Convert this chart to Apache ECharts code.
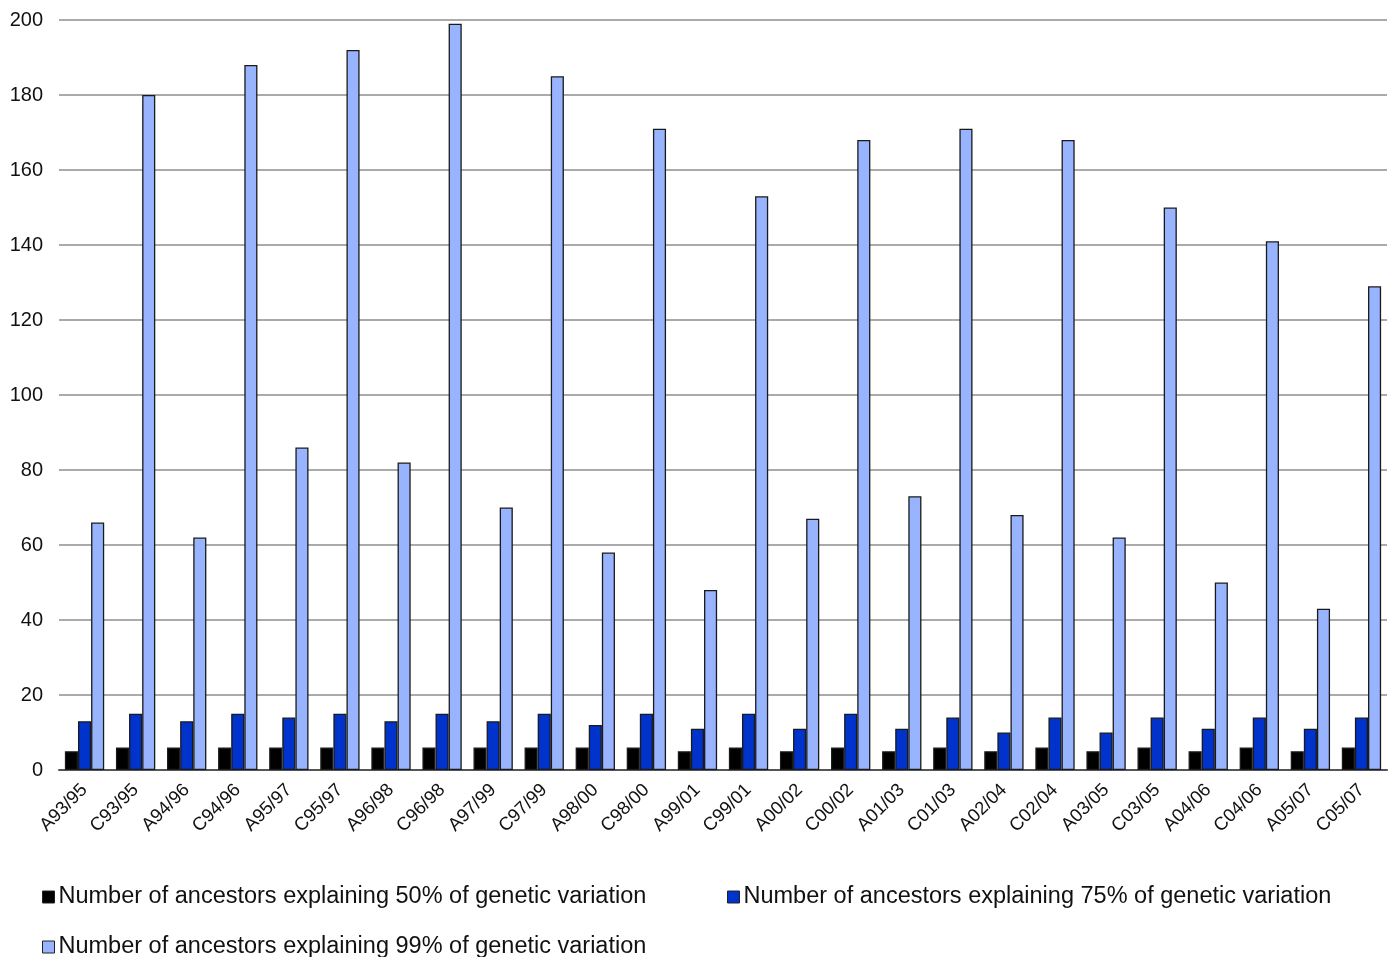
<!DOCTYPE html>
<html>
<head>
<meta charset="utf-8">
<script src="https://cdn.jsdelivr.net/npm/echarts@6/dist/echarts.min.js"></script>
<style>
  html, body { margin: 0; padding: 0; background: #fff; }
  #chart { width: 1396px; height: 957px; }
</style>
</head>
<body>
<div id="chart"></div>
<script>
// Breeding-cycle categories by year span
const categories = [
  'A93/95', 'C93/95', 'A94/96', 'C94/96', 'A95/97', 'C95/97', 'A96/98', 'C96/98',
  'A97/99', 'C97/99', 'A98/00', 'C98/00', 'A99/01', 'C99/01', 'A00/02', 'C00/02',
  'A01/03', 'C01/03', 'A02/04', 'C02/04', 'A03/05', 'C03/05', 'A04/06', 'C04/06',
  'A05/07', 'C05/07'
];

// Number of ancestors explaining 50% of genetic variation
const ancestors50 = [5, 6, 6, 6, 6, 6, 6, 6, 6, 6, 6, 6, 5, 6, 5, 6, 5, 6, 5, 6, 5, 6, 5, 6, 5, 6];
// Number of ancestors explaining 75% of genetic variation
const ancestors75 = [13, 15, 13, 15, 14, 15, 13, 15, 13, 15, 12, 15, 11, 15, 11, 15, 11, 14, 10, 14, 10, 14, 11, 14, 11, 14];
// Number of ancestors explaining 99% of genetic variation
const ancestors99 = [66, 180, 62, 188, 86, 192, 82, 199, 70, 185, 58, 171, 48, 153, 67, 168, 73, 171, 68, 168, 62, 150, 50, 141, 43, 129];

const seriesNames = [
  'Number of ancestors explaining 50% of genetic variation',
  'Number of ancestors explaining 75% of genetic variation',
  'Number of ancestors explaining 99% of genetic variation'
];
const seriesColors = ['#000000', '#0033cc', '#99b4ff'];

const FONT = '"Liberation Sans", Arial, sans-serif';

const chart = echarts.init(document.getElementById('chart'), null, { renderer: 'canvas' });

// One legend block per series so each entry sits in its own slot
function legendAt(name, left, top) {
  return {
    data: [name],
    left: left,
    top: top,
    itemWidth: 12,
    itemHeight: 12,
    itemGap: 5,
    icon: 'rect',
    itemStyle: { borderColor: '#222', borderWidth: 1 },
    textStyle: { fontFamily: FONT, fontSize: 23.5, color: '#111', padding: [0, 0, 0, -1] },
    selectedMode: false
  };
}

const option = {
  backgroundColor: '#ffffff',
  animation: false,
  grid: { left: 59, right: 9, top: 20, bottom: 187, containLabel: false },
  legend: [
    legendAt(seriesNames[0], 37, 880),
    legendAt(seriesNames[1], 722, 880),
    legendAt(seriesNames[2], 37, 930)
  ],
  xAxis: {
    type: 'category',
    data: categories,
    axisTick: { show: false },
    axisLine: { show: true, lineStyle: { color: '#555', width: 2 } },
    axisLabel: {
      interval: 0,
      rotate: 45,
      margin: 17,
      fontFamily: FONT,
      fontSize: 18.5,
      color: '#111'
    }
  },
  yAxis: {
    type: 'value',
    min: 0,
    max: 200,
    interval: 20,
    axisLine: { show: false },
    axisTick: { show: false },
    splitLine: { show: true, lineStyle: { color: '#aaaaaa', width: 2 } },
    axisLabel: {
      margin: 16,
      fontFamily: FONT,
      fontSize: 20,
      color: '#111'
    }
  },
  series: [ancestors50, ancestors75, ancestors99].map((values, i) => ({
    name: seriesNames[i],
    type: 'bar',
    data: values,
    barGap: '0%',
    barCategoryGap: '23%',
    itemStyle: { color: seriesColors[i], borderColor: '#1a1a1a', borderWidth: 1.3 }
  }))
};

chart.setOption(option);
</script>
</body>
</html>
